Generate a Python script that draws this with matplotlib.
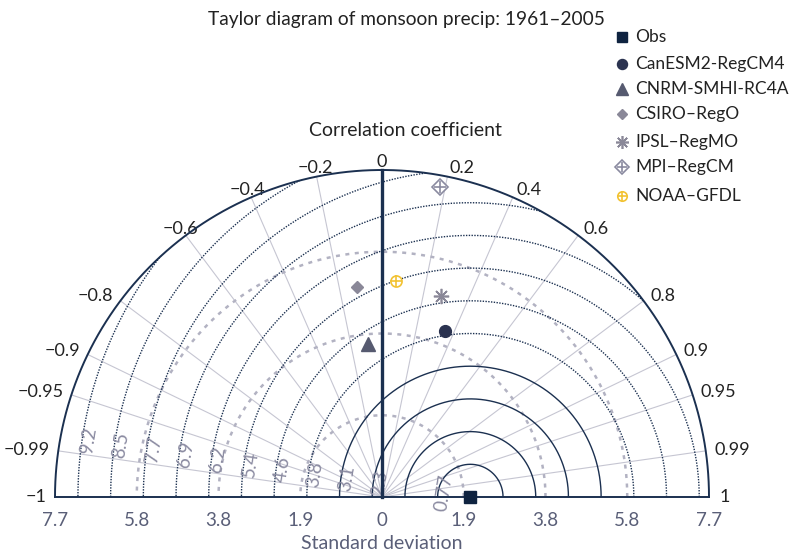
import numpy as np
import matplotlib
matplotlib.use("Agg")
import matplotlib.pyplot as plt
from matplotlib.patches import Wedge

plt.rcParams['font.family'] = ['Lato', 'DejaVu Sans']

# data
models = ["CanESM2-RegCM4", "CNRM-SMHI-RC4A", "CSIRO–RegO", "IPSL–RegMO", "MPI–RegCM", "NOAA–GFDL"]
model_std = [4.18, 3.62, 4.98, 4.93, 7.43, 5.10]
model_corr = [0.355, -0.09, -0.12, 0.28, 0.185, 0.065]
obs_std = 2.08

std_max = 7.7
std_ticks = [-7.7, -5.775, -3.85, -1.925, 0, 1.925, 3.85, 5.775, 7.7]
std_tick_labels = ["7.7", "5.8", "3.8", "1.9", "0", "1.9", "3.8", "5.8", "7.7"]
std_circles = [1.925, 3.85, 5.775]
corr_ticks = [-1, -0.99, -0.95, -0.9, -0.8, -0.6, -0.4, -0.2, 0, 0.2, 0.4, 0.6, 0.8, 0.9, 0.95, 0.99, 1]
corr_tick_labels = ["−1", "−0.99", "−0.95", "−0.9", "−0.8", "−0.6", "−0.4", "−0.2", "0",
                    "0.2", "0.4", "0.6", "0.8", "0.9", "0.95", "0.99", "1"]
rms_levels = [0.77, 1.54, 2.31, 3.08, 3.85, 4.62, 5.39, 6.16, 6.93, 7.7, 8.47, 9.24]
rms_labels = ["0.77", "", "2.3", "3.1", "3.8", "4.6", "5.4", "6.2", "6.9", "7.7", "8.5", "9.2"]

navy = "#1b3050"
grid_gray = "#c6c6d2"
dash_gray = "#b2b2c2"
label_gray = "#5a5f78"
text_dark = "#222222"

W, H = 799, 552
px = 327 / std_max   # pixels per std unit
ox, oy = 382, 497    # origin in pixels from top-left


def pix(x, y):
    # pixel position -> data coords
    return (x - ox) / px, (oy - y) / px


fig = plt.figure(figsize=(W / 100, H / 100), dpi=100)
ax = fig.add_axes([0, 0, 1, 1])
ax.set_xlim(-ox / px, (W - ox) / px)
ax.set_ylim(-(H - oy) / px, oy / px)
ax.axis("off")

t = np.linspace(0, np.pi, 400)

# correlation rays
for c in corr_ticks[1:-1]:
    if c == 0:
        continue
    a = np.arccos(c)
    ax.plot([0, std_max * np.cos(a)], [0, std_max * np.sin(a)], color=grid_gray, lw=0.8, zorder=1)

# std dev circles
for r in std_circles:
    ax.plot(r * np.cos(t), r * np.sin(t), color=dash_gray, lw=1.8, dashes=(1.6, 2.2), zorder=2)

# rms circles around obs, clipped to the half disc
clip = Wedge((0, 0), std_max, 0, 180, transform=ax.transData)
tt = np.linspace(0, 2 * np.pi, 800)
for i, r in enumerate(rms_levels):
    ls = "-" if r < 3.5 else (0, (1, 1))
    ln, = ax.plot(obs_std + r * np.cos(tt), r * np.sin(tt), color=navy, lw=1.0, ls=ls, zorder=3)
    ln.set_clip_path(clip)
    if rms_labels[i]:
        phi = np.radians(171.5)
        rl = r - 0.15
        ax.text(obs_std + rl * np.cos(phi), rl * np.sin(phi), rms_labels[i], rotation=81,
                ha="center", va="center", fontsize=13.5, color="#8c8ca2", zorder=4)

# frame
ax.plot(std_max * np.cos(t), std_max * np.sin(t), color=navy, lw=1.4, zorder=5)
ax.plot([-std_max, std_max], [0, 0], color=navy, lw=1.4, zorder=5)
ax.plot([0, 0], [0, std_max], color=navy, lw=2.4, zorder=5)

# correlation labels
for c, lab in zip(corr_ticks, corr_tick_labels):
    a = np.arccos(c)
    x, y = 7.9 * np.cos(a), 7.9 * np.sin(a)
    if c > 0:
        ha = "left"
    elif c <= -0.8:
        ha = "right"
    else:
        ha = "center"
    if c == 1:
        x += 0.05
    ax.text(x, y, lab, ha=ha, va="center", fontsize=13, color=text_dark)

# std labels
for v, lab in zip(std_ticks, std_tick_labels):
    ax.text(v, -0.55, lab, ha="center", va="center", fontsize=13.5, color=label_gray)
ax.text(0, -1.09, "Standard deviation", ha="center", va="center", fontsize=14, color=label_gray)
ax.text(*pix(405, 130), "Correlation coefficient", ha="center", va="center", fontsize=14, color=text_dark)
fig.text(406 / W, 1 - 20 / H, "Taylor diagram of monsoon precip: 1961–2005", ha="center", va="center",
         fontsize=13.8, color=text_dark)

# points
xs = [s * c for s, c in zip(model_std, model_corr)]
ys = [s * np.sqrt(1 - c * c) for s, c in zip(model_std, model_corr)]

styles = [
    dict(marker="o", color="#2b3350", ms=8.5),
    dict(marker="^", color="#565a70", ms=9.5),
    dict(marker="D", color="#8a8898", ms=6),
    dict(marker=(8, 2, 0), color="#8a8898", mew=1.2, ms=11),
    dict(marker="D", mfc="white", mec="#8a8aa0", mew=1.2, ms=8),
    dict(marker="o", mfc="white", mec="#f2c232", mew=1.2, ms=8),
]
overlay = [None, None, None, None,
           dict(marker="+", color="#8a8aa0", mew=1.2, ms=9),
           dict(marker="+", color="#f2c232", mew=1.2, ms=8)]

ax.plot(obs_std, 0, "s", color="#0f2340", ms=8, ls="none", zorder=8, clip_on=False)
for i in range(len(models)):
    ax.plot(xs[i], ys[i], ls="none", zorder=8, **styles[i])
    if overlay[i]:
        ax.plot(xs[i], ys[i], ls="none", zorder=9, **overlay[i])

# legend, drawn by hand so the rows sit where the reference has them
leg_y = [37, 64, 89, 114, 142, 167, 196]
ax.plot(*pix(622, leg_y[0]), "s", color="#0f2340", ms=7, ls="none", clip_on=False)
ax.text(*pix(635, leg_y[0]), "Obs", ha="left", va="center", fontsize=12.5, color=text_dark)
for i, name in enumerate(models):
    lx, ly = pix(622, leg_y[i + 1])
    st = dict(styles[i])
    st["ms"] = st["ms"] * 0.85
    ax.plot(lx, ly, ls="none", clip_on=False, **st)
    if overlay[i]:
        ov = dict(overlay[i])
        ov["ms"] = ov["ms"] * 0.85
        ax.plot(lx, ly, ls="none", clip_on=False, **ov)
    ax.text(*pix(635, leg_y[i + 1]), name, ha="left", va="center", fontsize=12.5, color=text_dark)

fig.savefig("out.png", dpi=100)
